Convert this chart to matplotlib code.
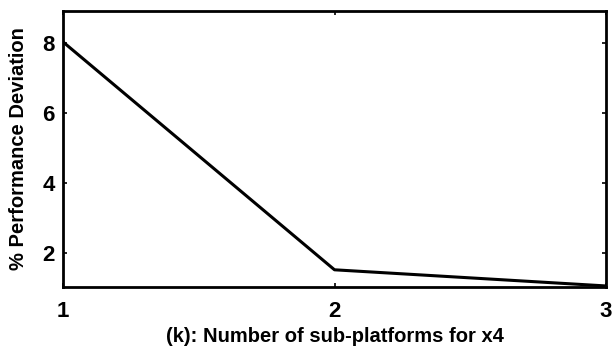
import matplotlib
matplotlib.use("Agg")
import matplotlib.pyplot as plt

k_values = [1, 2, 3]
deviation = [8.02, 1.53, 1.07]
x_ticks = [1, 2, 3]
y_ticks = [2, 4, 6, 8]

plt.rcParams['font.family'] = ['Liberation Sans', 'DejaVu Sans']
plt.rcParams['font.weight'] = 'bold'

fig = plt.figure(figsize=(6.15, 3.52), dpi=100)
ax = fig.add_axes([63 / 615, 1 - 287 / 352, (606 - 63) / 615, (287 - 11) / 352])

ax.plot(k_values, deviation, color='black', linewidth=2.2)
ax.set_xlim(1, 3)
ax.set_ylim(1.04, 8.9)
ax.set_xticks(x_ticks)
ax.set_yticks(y_ticks)
ax.tick_params(direction='in', length=3, width=1.2, top=True, right=True,
               labelsize=16)
ax.tick_params(axis='x', pad=10)
ax.tick_params(axis='y', pad=6)
for lbl in ax.get_xticklabels() + ax.get_yticklabels():
    lbl.set_fontweight('bold')
for s in ax.spines.values():
    s.set_linewidth(2)

ax.set_xlabel('(k): Number of sub-platforms for x4', fontsize=14.5, fontweight='bold')
ax.set_ylabel('% Performance Deviation', fontsize=14.5, fontweight='bold')
ax.xaxis.set_label_coords(0.5, -(337 - 287) / 276, transform=ax.transAxes)
ax.yaxis.set_label_coords(-(63 - 19) / 543, 0.5, transform=ax.transAxes)
ax.xaxis.label.set_va('center')
ax.yaxis.label.set_va('center')

fig.savefig('out.png', dpi=100)
